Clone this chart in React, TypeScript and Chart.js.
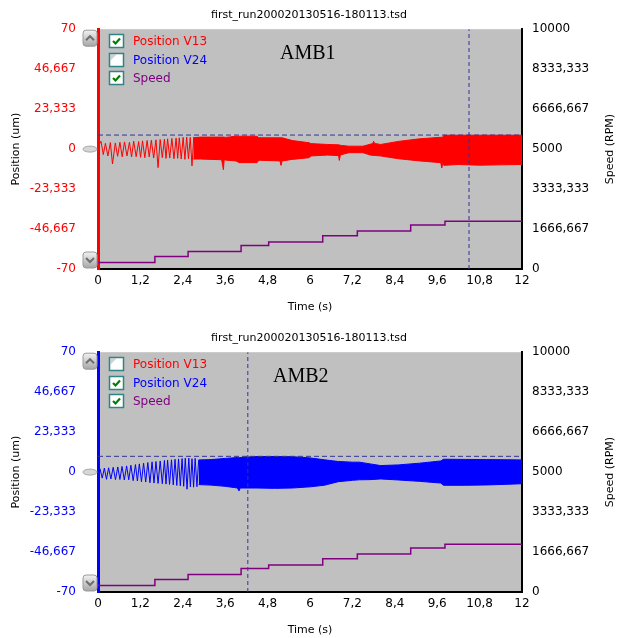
import React, { useEffect, useRef } from "react";
import { Chart, registerables } from "chart.js";

Chart.register(...registerables);

const FONT = "DejaVu Sans";

// ---------- labels / ticks ----------
const titleText = "first_run200020130516-180113.tsd";
const xTicks = [0, 1.2, 2.4, 3.6, 4.8, 6, 7.2, 8.4, 9.6, 10.8, 12];
const xTickLabels = ["0", "1,2", "2,4", "3,6", "4,8", "6", "7,2", "8,4", "9,6", "10,8", "12"];
const posTicks = [-70, -46.667, -23.333, 0, 23.333, 46.667, 70];
const posTickLabels = ["-70", "-46,667", "-23,333", "0", "23,333", "46,667", "70"];
const speedTicks = [0, 1666.667, 3333.333, 5000, 6666.667, 8333.333, 10000];
const speedTickLabels = ["0", "1666,667", "3333,333", "5000", "6666,667", "8333,333", "10000"];
const legendLabels = ["Position V13", "Position V24", "Speed"];
const legendColors = ["#FF0000", "#0000FF", "#800080"];

// ---------- speed (RPM), step profile ----------
const speedTime = [0, 1.61, 2.55, 4.05, 4.83, 6.36, 7.34, 8.85, 9.82, 12];
const speedRpm = [270, 520, 725, 975, 1130, 1390, 1585, 1840, 1990, 1990];

// ---------- Position V13 (AMB1) ----------
const v13ZigTime = [0, 0.085, 0.15, 0.21, 0.28, 0.35, 0.41, 0.49, 0.555, 0.62, 0.685, 0.75, 0.82, 0.89, 0.95, 1.01, 1.08, 1.15, 1.205, 1.26, 1.325, 1.39, 1.45, 1.51, 1.575, 1.64, 1.7, 1.76, 1.82, 1.88, 1.925, 1.97, 2.03, 2.09, 2.15, 2.21, 2.255, 2.3, 2.355, 2.41, 2.46, 2.51, 2.56, 2.61, 2.66, 2.71];
const v13ZigValue = [1.5, 4.6, -3.2, 3.4, -4.0, 3.8, -8.7, 3.6, -4.2, 4.0, -4.5, 4.2, -4.0, 4.0, -4.6, 4.6, -4.4, 4.4, -4.8, 4.8, -5.0, 5.0, -4.6, 5.2, -5.2, 5.4, -10.8, 5.6, -5.0, 5.8, -5.4, 6.0, -5.2, 6.2, -5.6, 6.4, -5.4, 6.6, -5.8, 6.8, -6.0, 7.0, -5.6, 6.8, -9.8, 7.0];
const v13EnvTime = [2.7, 2.9, 3.2, 3.5, 3.55, 3.57, 3.6, 3.9, 4.0, 4.5, 4.55, 5.15, 5.18, 5.21, 5.5, 5.98, 6.02, 6.5, 6.81, 6.83, 6.86, 7.1, 7.5, 7.7, 7.78, 7.8, 7.83, 8.0, 8.5, 9.1, 9.7, 9.73, 9.76, 9.79, 10.2, 10.8, 11.4, 12];
const v13EnvUpper = [6.6, 7.0, 7.0, 7.0, 7.0, 7.0, 6.8, 7.5, 7.5, 7.5, 6.6, 6.6, 6.6, 6.6, 5.0, 3.7, 3.2, 2.7, 2.5, 2.5, 2.2, 1.7, 1.7, 2.8, 3.3, 4.6, 3.3, 2.7, 4.5, 6.0, 6.9, 6.9, 7.0, 8.1, 8.1, 8.1, 8.1, 8.1];
const v13EnvLower = [-5.8, -5.8, -6.0, -6.2, -12, -6.2, -6.4, -6.9, -7.9, -7.9, -6.5, -6.9, -9.5, -6.9, -6.0, -5.0, -4.0, -3.5, -3.8, -6.6, -3.4, -2.1, -2.1, -3.4, -3.7, -3.7, -3.7, -4.0, -5.6, -6.9, -7.9, -11, -7.9, -9.5, -9.0, -9.4, -9.2, -9.0];
const v13Limit = 8.2;
const v13Cursor = 10.5;

// ---------- Position V24 (AMB2) ----------
const v24ZigTime = [0, 0.057, 0.12, 0.18, 0.24, 0.3, 0.365, 0.43, 0.495, 0.56, 0.62, 0.68, 0.745, 0.81, 0.87, 0.93, 0.995, 1.06, 1.115, 1.17, 1.23, 1.29, 1.35, 1.41, 1.47, 1.53, 1.585, 1.64, 1.7, 1.76, 1.82, 1.88, 1.925, 1.97, 2.025, 2.08, 2.13, 2.18, 2.23, 2.28, 2.33, 2.38, 2.425, 2.47, 2.52, 2.57, 2.615, 2.66, 2.705, 2.75, 2.8, 2.85];
const v24ZigValue = [0.5, 1.9, -3.5, 2.3, -4.2, 2.5, -4.0, 2.8, -4.4, 3.0, -4.3, 3.3, -4.6, 3.6, -4.5, 4.0, -5.0, 4.4, -5.2, 4.8, -5.6, 5.2, -5.8, 5.6, -6.2, 6.0, -6.4, 6.2, -6.6, 6.5, -6.8, 6.8, -7.0, 7.0, -7.2, 7.2, -7.5, 7.5, -7.8, 7.7, -8.0, 7.9, -8.3, 8.1, -10.0, 8.1, -8.6, 7.8, -8.8, 8.0, -8.5, 7.1];
const v24EnvTime = [2.85, 3.2, 3.6, 3.95, 3.98, 4.0, 4.02, 4.5, 5.0, 5.5, 6.0, 6.4, 6.8, 7.2, 7.4, 7.7, 8.0, 8.5, 9.1, 9.7, 9.78, 10.4, 11.0, 11.6, 12];
const v24EnvUpper = [7.1, 7.3, 8.0, 8.5, 8.5, 8.5, 8.5, 9.1, 9.1, 9.0, 8.3, 7.2, 6.2, 5.8, 5.8, 4.8, 3.8, 4.2, 5.2, 6.5, 7.5, 7.4, 7.3, 7.2, 7.1];
const v24EnvLower = [-7.3, -7.6, -8.3, -9.3, -10.8, -10.8, -9.3, -9.3, -9.5, -9.3, -8.6, -7.7, -5.6, -4.8, -4.5, -4.4, -4.0, -4.6, -5.4, -6.4, -7.7, -7.7, -7.5, -7.1, -6.8];
const v24Limit = 9.2;
const v24Cursor = 4.24;

const zip = (xs: number[], ys: number[]) => xs.map((x, i) => ({ x, y: ys[i] }));

type Panel = {
  tag: string;
  tagX: number;
  color: string;
  checked: boolean[];
  label: string;
  zigT: number[];
  zigV: number[];
  envT: number[];
  envUp: number[];
  envLo: number[];
  limit: number;
  cursor: number;
};

const panels: Panel[] = [
  {
    tag: "AMB1", tagX: 182, color: "#FF0000", checked: [true, false, true], label: "Position V13",
    zigT: v13ZigTime, zigV: v13ZigValue, envT: v13EnvTime, envUp: v13EnvUpper, envLo: v13EnvLower,
    limit: v13Limit, cursor: v13Cursor,
  },
  {
    tag: "AMB2", tagX: 175, color: "#0000FF", checked: [false, true, true], label: "Position V24",
    zigT: v24ZigTime, zigV: v24ZigValue, envT: v24EnvTime, envUp: v24EnvUpper, envLo: v24EnvLower,
    limit: v24Limit, cursor: v24Cursor,
  },
];

function drawScrollButton(ctx: CanvasRenderingContext2D, x: number, y: number, w: number, h: number, up: boolean) {
  const g = ctx.createLinearGradient(x, y, x, y + h);
  g.addColorStop(0, "#f2f2f2");
  g.addColorStop(1, "#a6a6a6");
  ctx.fillStyle = g;
  ctx.beginPath();
  (ctx as any).roundRect(x, y, w, h, 3);
  ctx.fill();
  ctx.strokeStyle = "#9a9a9a";
  ctx.lineWidth = 1;
  ctx.stroke();
  ctx.strokeStyle = "#6e6e6e";
  ctx.lineWidth = 2;
  ctx.beginPath();
  const cx = x + w / 2;
  const cy = y + h / 2;
  if (up) {
    ctx.moveTo(x + 3, cy + 2);
    ctx.lineTo(cx, cy - 2);
    ctx.lineTo(x + w - 3, cy + 2);
  } else {
    ctx.moveTo(x + 3, cy - 2);
    ctx.lineTo(cx, cy + 2);
    ctx.lineTo(x + w - 3, cy - 2);
  }
  ctx.stroke();
}

const decorPlugin = {
  id: "decor",
  beforeDraw(chart: any) {
    const { ctx, chartArea: a } = chart;
    ctx.save();
    ctx.fillStyle = "#C0C0C0";
    ctx.fillRect(a.left, a.top, a.right - a.left, a.bottom - a.top);
    ctx.restore();
  },
  afterDraw(chart: any, _args: any, opts: any) {
    const { ctx, chartArea: a } = chart;
    const yS = chart.scales.y;
    ctx.save();
    // scroll widgets beside the left axis
    drawScrollButton(ctx, 83, a.top + 1, 14, 16, true);
    drawScrollButton(ctx, 83, a.bottom - 17, 14, 16, false);
    const zy = yS.getPixelForValue(0);
    ctx.beginPath();
    ctx.ellipse(90, zy, 7, 3, 0, 0, Math.PI * 2);
    ctx.fillStyle = "#d6d6d6";
    ctx.fill();
    ctx.strokeStyle = "#a8a8a8";
    ctx.lineWidth = 1;
    ctx.stroke();

    // AMB label
    ctx.font = '20px "Liberation Serif"';
    ctx.fillStyle = "#000";
    ctx.textAlign = "left";
    ctx.textBaseline = "alphabetic";
    ctx.fillText(opts.tag, a.left + opts.tagX, a.top + 30);

    // legend with check boxes
    ctx.font = `12px "${FONT}"`;
    ctx.textBaseline = "middle";
    for (let i = 0; i < legendLabels.length; i++) {
      const bx = Math.round(a.left + 11) + 0.5;
      const by = Math.round(a.top + 5 + i * 18.5) + 0.5;
      ctx.fillStyle = "#ffffff";
      ctx.fillRect(bx, by, 14, 13);
      if (!opts.checked[i]) {
        ctx.fillStyle = "#cfcfcf";
        ctx.beginPath();
        ctx.moveTo(bx + 1, by + 1);
        ctx.lineTo(bx + 7, by + 1);
        ctx.lineTo(bx + 1, by + 7);
        ctx.closePath();
        ctx.fill();
      }
      ctx.strokeStyle = "#2F8585";
      ctx.lineWidth = 1.5;
      ctx.strokeRect(bx, by, 14, 13);
      if (opts.checked[i]) {
        ctx.strokeStyle = "#008000";
        ctx.lineWidth = 2.2;
        ctx.beginPath();
        ctx.moveTo(bx + 3.5, by + 6.5);
        ctx.lineTo(bx + 6, by + 9);
        ctx.lineTo(bx + 10.5, by + 4);
        ctx.stroke();
      }
      ctx.fillStyle = legendColors[i];
      ctx.fillText(legendLabels[i], a.left + 35, by + 7);
    }

    // right axis title (reads bottom to top)
    ctx.translate(610, (a.top + a.bottom) / 2);
    ctx.rotate(-Math.PI / 2);
    ctx.font = `11px "${FONT}"`;
    ctx.fillStyle = "#000";
    ctx.textAlign = "center";
    ctx.textBaseline = "middle";
    ctx.fillText("Speed (RPM)", 0, 0);
    ctx.restore();
  },
};

function AmbChart({ p }: { p: Panel }) {
  const ref = useRef<HTMLCanvasElement>(null);
  useEffect(() => {
    if (!ref.current) return;
    const chart = new Chart(ref.current, {
      type: "line",
      data: {
        datasets: [
          {
            label: "cursor",
            data: [{ x: p.cursor, y: -70 }, { x: p.cursor, y: 70 }],
            borderColor: "#333399",
            borderWidth: 1,
            borderDash: [4, 3],
            pointRadius: 0,
            yAxisID: "y",
            order: 0,
          },
          {
            label: "limit",
            data: [{ x: 0, y: p.limit }, { x: 12, y: p.limit }],
            borderColor: "#333399",
            borderWidth: 1,
            borderDash: [5, 3],
            pointRadius: 0,
            yAxisID: "y",
            order: 1,
          },
          {
            label: "Speed",
            data: zip(speedTime, speedRpm),
            borderColor: "#800080",
            borderWidth: 1.5,
            stepped: true,
            pointRadius: 0,
            yAxisID: "y2",
            order: 2,
          },
          {
            label: p.label,
            data: zip(p.zigT, p.zigV),
            borderColor: p.color,
            borderWidth: 1,
            pointRadius: 0,
            yAxisID: "y",
            order: 3,
          },
          {
            label: p.label + " max",
            data: zip(p.envT, p.envUp),
            borderColor: p.color,
            backgroundColor: p.color,
            borderWidth: 1,
            pointRadius: 0,
            fill: "+1",
            yAxisID: "y",
            order: 4,
          },
          {
            label: p.label + " min",
            data: zip(p.envT, p.envLo),
            borderColor: p.color,
            borderWidth: 1,
            pointRadius: 0,
            yAxisID: "y",
            order: 5,
          },
        ],
      },
      options: {
        responsive: false,
        animation: false,
        devicePixelRatio: 1,
        layout: { padding: { top: 0, left: 0, right: 0, bottom: 0 } },
        elements: { line: { tension: 0 } },
        plugins: {
          legend: { display: false },
          tooltip: { enabled: false },
          title: {
            display: true,
            text: titleText,
            color: "#000",
            font: { family: FONT, size: 11, weight: "normal" },
            padding: { top: 6.4, bottom: 7.4 },
          },
          decor: { tag: p.tag, tagX: p.tagX, checked: p.checked },
        } as any,
        scales: {
          x: {
            type: "linear",
            position: "bottom",
            min: 0,
            max: 12,
            afterBuildTicks: (s: any) => { s.ticks = xTicks.map((v) => ({ value: v })); },
            afterFit: (s: any) => { s.height = 50; },
            ticks: {
              autoSkip: false,
              maxRotation: 0,
              padding: 5,
              color: "#000",
              font: { family: FONT, size: 12 },
              callback: (_v: any, i: number) => xTickLabels[i],
            },
            grid: { display: false, drawTicks: false },
            border: { display: true, color: "#000", width: 2 },
            title: {
              display: true,
              text: "Time (s)",
              color: "#000",
              font: { family: FONT, size: 11 },
              padding: { top: 0, bottom: 5.5 },
            },
          },
          y: {
            type: "linear",
            position: "left",
            min: -70,
            max: 70,
            afterBuildTicks: (s: any) => { s.ticks = posTicks.map((v) => ({ value: v })); },
            afterFit: (s: any) => { s.width = 98; },
            ticks: {
              autoSkip: false,
              padding: 22,
              color: p.color,
              font: { family: FONT, size: 12 },
              callback: (_v: any, i: number) => posTickLabels[i],
            },
            grid: { display: false, drawTicks: false },
            border: { display: true, color: p.color, width: 3 },
            title: {
              display: true,
              text: "Position (um)",
              color: "#000",
              font: { family: FONT, size: 11 },
              padding: { top: 10, bottom: 0 },
            },
          },
          y2: {
            type: "linear",
            position: "right",
            min: 0,
            max: 10000,
            afterBuildTicks: (s: any) => { s.ticks = speedTicks.map((v) => ({ value: v })); },
            afterFit: (s: any) => { s.width = 96; },
            ticks: {
              autoSkip: false,
              padding: 10,
              color: "#000",
              font: { family: FONT, size: 12 },
              callback: (_v: any, i: number) => speedTickLabels[i],
            },
            grid: { display: false, drawTicks: false },
            border: { display: true, color: "#000", width: 2 },
          },
        },
      } as any,
      plugins: [decorPlugin],
    });
    return () => chart.destroy();
  }, [p]);
  return <canvas ref={ref} width={618} height={319} style={{ display: "block", width: 618, height: 319 }} />;
}

export default function App() {
  return (
    <div style={{ position: "absolute", left: 0, top: 0, width: 618, height: 642, background: "#fff" }}>
      <div style={{ position: "absolute", left: 0, top: 0 }}>
        <AmbChart p={panels[0]} />
      </div>
      <div style={{ position: "absolute", left: 0, top: 323 }}>
        <AmbChart p={panels[1]} />
      </div>
    </div>
  );
}
